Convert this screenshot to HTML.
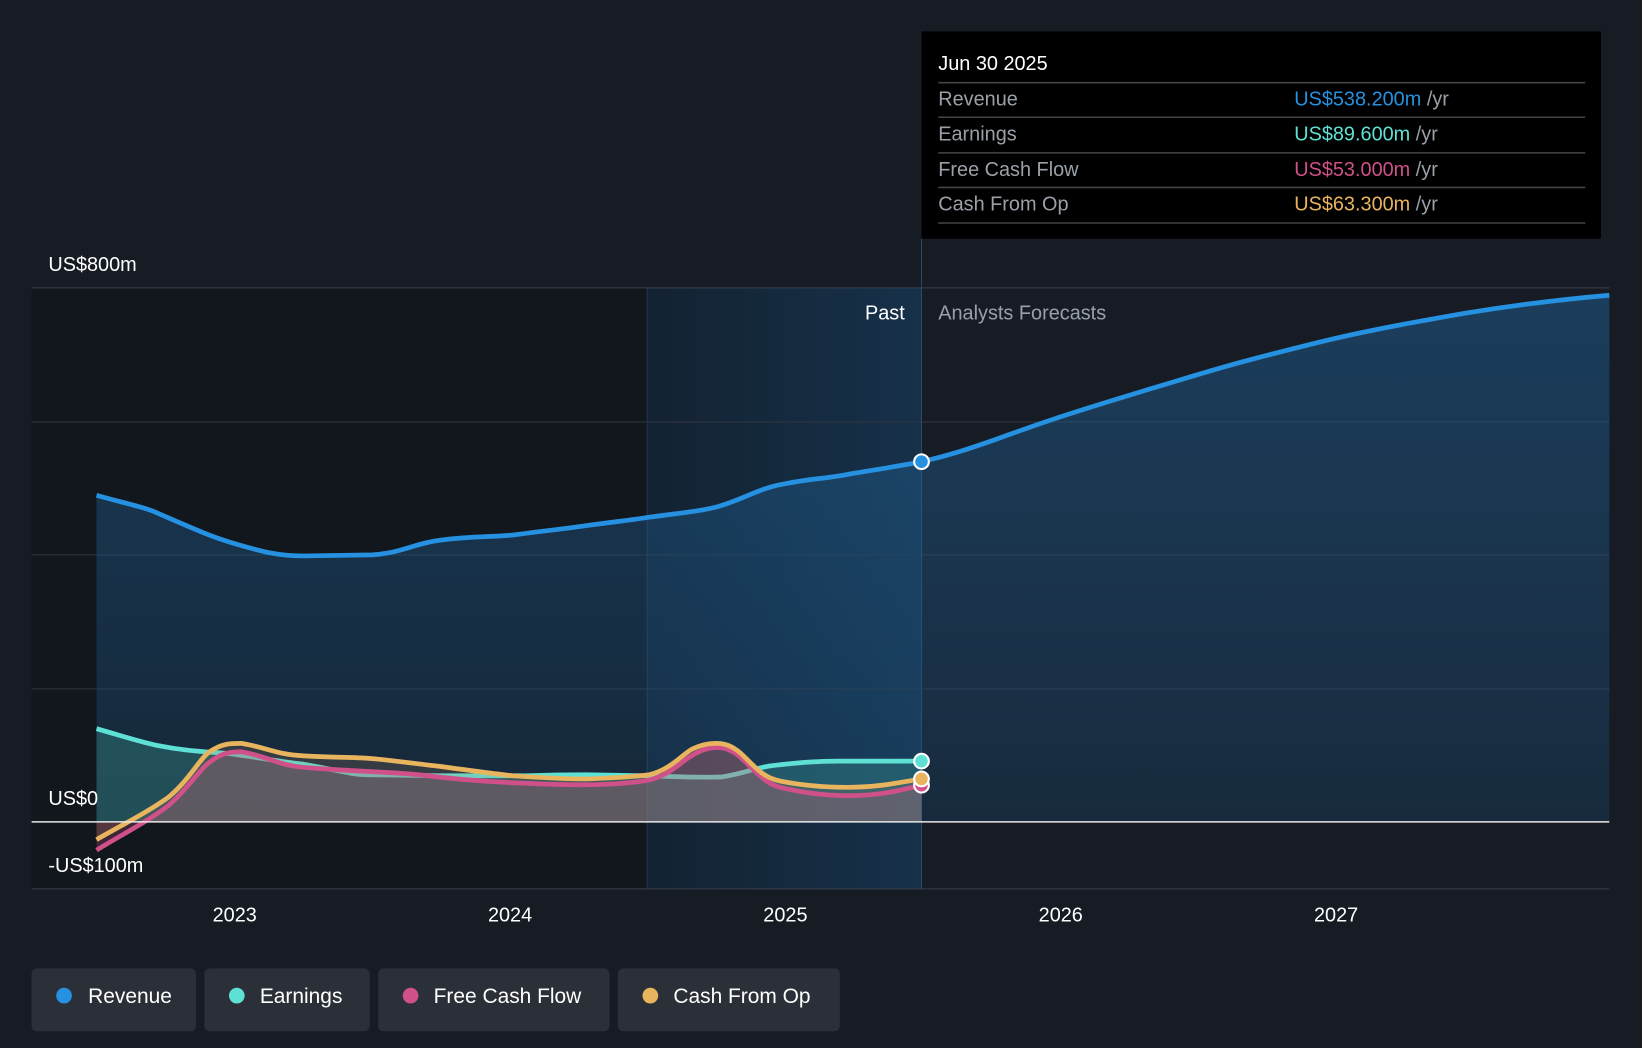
<!DOCTYPE html>
<html><head><meta charset="utf-8"><style>
html,body{margin:0;padding:0;background:#161b24;}
svg{display:block;font-family:"Liberation Sans",sans-serif;}
</style></head><body>
<svg width="1642" height="1048" viewBox="0 0 1568 1001" xmlns="http://www.w3.org/2000/svg">
<defs>
<linearGradient id="hl" x1="0" x2="1" y1="0" y2="0">
<stop offset="0" stop-color="#132232"/><stop offset="1" stop-color="#16314a"/>
</linearGradient>
<linearGradient id="rv" x1="0" x2="0" y1="0" y2="1">
<stop offset="0" stop-color="#1f5a8a" stop-opacity="0.55"/><stop offset="1" stop-color="#1f5a8a" stop-opacity="0.25"/>
</linearGradient>
</defs>
<rect width="1568" height="1001" fill="#161b24"/>
<rect x="30" y="275" width="588" height="574" fill="#12161d"/>
<rect x="618" y="275" width="262" height="574" fill="url(#hl)"/>
<g stroke="#2e3540" stroke-width="1">
<line x1="30" x2="1537" y1="275" y2="275" stroke="#3a414c"/>
<line x1="30" x2="1537" y1="403" y2="403"/>
<line x1="30" x2="1537" y1="530" y2="530"/>
<line x1="30" x2="1537" y1="658" y2="658"/>
<line x1="30" x2="1537" y1="849" y2="849" stroke="#3a414c"/>
</g>
<line x1="618" x2="618" y1="275" y2="849" stroke="#22384d"/>
<line x1="880" x2="880" y1="228" y2="849" stroke="#2a4a66"/>
<!-- revenue area -->
<path d="M92,473 C120,481 140,485 150,490 C180,503 200,512 220,518 C250,527 265,531 290,531 L355,530 C385,528 395,519 420,516 C450,512 470,513 490,511 C520,507 540,505 560,502 C590,498 600,497 620,494 C650,490 670,488 685,484 C710,477 725,466 750,462 C775,457 790,457 810,453 C840,448 860,445 880,441 C910,434 930,427 950,420 C980,409 995,404 1013,398 C1050,386 1070,380 1100,371 C1140,359 1165,351 1200,342 C1235,333 1250,329 1276,323 C1320,313 1360,306 1400,299 C1450,291 1490,286 1537,282 L1537,785 L92,785 Z" fill="url(#rv)"/>
<path d="M92,473 C120,481 140,485 150,490 C180,503 200,512 220,518 C250,527 265,531 290,531 L355,530 C385,528 395,519 420,516 C450,512 470,513 490,511 C520,507 540,505 560,502 C590,498 600,497 620,494 C650,490 670,488 685,484 C710,477 725,466 750,462 C775,457 790,457 810,453 C840,448 860,445 880,441 C910,434 930,427 950,420 C980,409 995,404 1013,398 C1050,386 1070,380 1100,371 C1140,359 1165,351 1200,342 C1235,333 1250,329 1276,323 C1320,313 1360,306 1400,299 C1450,291 1490,286 1537,282" fill="none" stroke="#2591e0" stroke-width="4.5"/>
<!-- earnings -->
<path d="M92,696 C120,704 135,709 150,712 C180,718 200,718 220,720 C250,724 270,728 290,730 C320,735 335,740 350,740 L420,741 L500,741 C530,740 545,740 560,740 L620,741 C650,742 670,743 690,742 C715,738 720,733 740,731 C765,728 780,727 800,727 L880,727 L880,785 L92,785 Z" fill="#3fa9a0" fill-opacity="0.3"/>
<path d="M92,696 C120,704 135,709 150,712 C180,718 200,718 220,720 C250,724 270,728 290,730 C320,735 335,740 350,740 L420,741 L500,741 C530,740 545,740 560,740 L620,741 C650,742 670,743 690,742 C715,738 720,733 740,731 C765,728 780,727 800,727 L880,727" fill="none" stroke="#5ee0d4" stroke-width="4.5"/>
<!-- FCF -->
<path d="M92,812 C120,795 140,785 160,770 C180,753 190,735 200,728 C212,719 220,718 230,718 C255,722 265,731 290,733 C340,737 370,737 400,740 C440,745 470,747 500,748 C540,750 560,750 580,749 C600,748 610,747 620,745 C640,740 650,728 660,722 C670,716 677,714 685,714 C695,714 703,719 710,726 C723,738 730,748 745,752 C770,758 790,760 810,760 C840,760 860,755 880,750 L880,785 L92,785 Z" fill="#b05080" fill-opacity="0.28"/>
<path d="M92,802 C120,786 140,776 160,762 C180,746 190,725 200,718 C212,710 220,710 230,710 C255,714 265,721 290,722 C330,724 340,723 360,725 C390,728 400,730 420,732 C450,736 470,739 490,741 C520,743 540,744 560,744 C590,743 605,742 620,740 C640,735 650,722 660,716 C670,711 677,710 685,710 C695,710 703,715 710,722 C723,735 730,743 745,746 C770,751 790,752 810,752 C840,752 860,747 880,744 L880,785 L92,785 Z" fill="#c09060" fill-opacity="0.18"/>
<path d="M92,812 C120,795 140,785 160,770 C180,753 190,735 200,728 C212,719 220,718 230,718 C255,722 265,731 290,733 C340,737 370,737 400,740 C440,745 470,747 500,748 C540,750 560,750 580,749 C600,748 610,747 620,745 C640,740 650,728 660,722 C670,716 677,714 685,714 C695,714 703,719 710,726 C723,738 730,748 745,752 C770,758 790,760 810,760 C840,760 860,755 880,750" fill="none" stroke="#d0508a" stroke-width="4.5"/>
<path d="M92,802 C120,786 140,776 160,762 C180,746 190,725 200,718 C212,710 220,710 230,710 C255,714 265,721 290,722 C330,724 340,723 360,725 C390,728 400,730 420,732 C450,736 470,739 490,741 C520,743 540,744 560,744 C590,743 605,742 620,740 C640,735 650,722 660,716 C670,711 677,710 685,710 C695,710 703,715 710,722 C723,735 730,743 745,746 C770,751 790,752 810,752 C840,752 860,747 880,744" fill="none" stroke="#e8b45e" stroke-width="4.5"/>
<line x1="30" x2="1537" y1="785" y2="785" stroke="#e8e8e8" stroke-width="1.5"/>
<circle cx="880" cy="441" r="7" fill="#2591e0" stroke="#fff" stroke-width="2"/>
<circle cx="880" cy="727" r="7" fill="#5ee0d4" stroke="#fff" stroke-width="2"/>
<circle cx="880" cy="750" r="7" fill="#d0508a" stroke="#fff" stroke-width="2"/>
<circle cx="880" cy="744" r="7" fill="#e8b45e" stroke="#fff" stroke-width="2"/>
<g fill="#fff" font-size="19">
<text x="46" y="259">US$800m</text>
<text x="46" y="769">US$0</text>
<text x="46" y="833">-US$100m</text>
<text x="864" y="305" text-anchor="end">Past</text>
<text x="896" y="305" fill="#9aa0a8">Analysts Forecasts</text>
<text x="224" y="880" text-anchor="middle">2023</text>
<text x="487" y="880" text-anchor="middle">2024</text>
<text x="750" y="880" text-anchor="middle">2025</text>
<text x="1013" y="880" text-anchor="middle">2026</text>
<text x="1276" y="880" text-anchor="middle">2027</text>
</g>
<!-- tooltip -->
<rect x="880" y="30" width="649" height="198" fill="#000"/>
<g font-size="19">
<text x="896" y="67" fill="#fff">Jun 30 2025</text>
<g stroke="#444" stroke-width="1.5"><line x1="896" x2="1514" y1="79" y2="79"/><line x1="896" x2="1514" y1="112" y2="112"/><line x1="896" x2="1514" y1="146" y2="146"/><line x1="896" x2="1514" y1="179" y2="179"/><line x1="896" x2="1514" y1="213" y2="213"/></g>
<text x="896" y="101" fill="#9aa0a8">Revenue</text><text x="1236" y="101" fill="#2591e0">US$538.200m <tspan fill="#9aa0a8">/yr</tspan></text>
<text x="896" y="134" fill="#9aa0a8">Earnings</text><text x="1236" y="134" fill="#5ee0d4">US$89.600m <tspan fill="#9aa0a8">/yr</tspan></text>
<text x="896" y="168" fill="#9aa0a8">Free Cash Flow</text><text x="1236" y="168" fill="#d0508a">US$53.000m <tspan fill="#9aa0a8">/yr</tspan></text>
<text x="896" y="201" fill="#9aa0a8">Cash From Op</text><text x="1236" y="201" fill="#e8b45e">US$63.300m <tspan fill="#9aa0a8">/yr</tspan></text>
</g>
<!-- legend -->
<g font-size="20" fill="#fff">
<rect x="30" y="925" width="157" height="60" rx="5" fill="#2a2f38"/><circle cx="61" cy="951" r="7.5" fill="#2591e0"/><text x="84" y="958">Revenue</text>
<rect x="195" y="925" width="158" height="60" rx="5" fill="#2a2f38"/><circle cx="226" cy="951" r="7.5" fill="#5ee0d4"/><text x="248" y="958">Earnings</text>
<rect x="361" y="925" width="221" height="60" rx="5" fill="#2a2f38"/><circle cx="392" cy="951" r="7.5" fill="#d0508a"/><text x="414" y="958">Free Cash Flow</text>
<rect x="590" y="925" width="212" height="60" rx="5" fill="#2a2f38"/><circle cx="621" cy="951" r="7.5" fill="#e8b45e"/><text x="643" y="958">Cash From Op</text>
</g>
</svg>
</body></html>
